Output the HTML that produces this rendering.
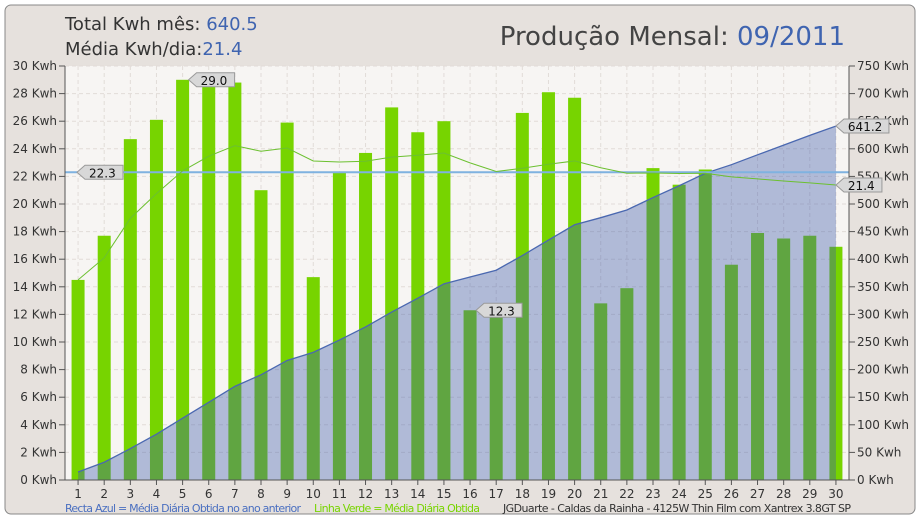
<!DOCTYPE html>
<html><head><meta charset="utf-8"><style>
body{margin:0;background:#fff;font-family:"DejaVu Sans","Liberation Sans",sans-serif;}
svg text{font-family:"DejaVu Sans","Liberation Sans",sans-serif;}
</style></head><body>
<svg id="c" width="920" height="520">
<rect x="5" y="5" width="910" height="509" rx="6" fill="#e6e1dd" stroke="#888"/>
<rect x="65" y="66" width="784" height="414" fill="#f7f5f3"/>
<g id="grid"></g><g id="bars"></g><g id="area"></g><g id="lines"></g><g id="axes"></g><g id="labels"></g>
<text x="65" y="30" font-size="18" fill="#333">Total Kwh mês: <tspan fill="#3f64b0">640.5</tspan></text>
<text x="65" y="55" font-size="18" fill="#333">Média Kwh/dia:<tspan fill="#3f64b0">21.4</tspan></text>
<text x="845" y="45" font-size="26" fill="#444" text-anchor="end">Produção Mensal: <tspan fill="#3f64b0">09/2011</tspan></text>
<text x="65" y="512" font-size="11" fill="#4a6fc0" textLength="236">Recta Azul = Média Diária Obtida no ano anterior</text>
<text x="314" y="512" font-size="11" fill="#77d400" textLength="166">Linha Verde = Média Diária Obtida</text>
<text x="503" y="512" font-size="11" fill="#333" textLength="348">JGDuarte  -  Caldas da Rainha  -  4125W Thin Film com Xantrex 3.8GT SP</text>
</svg>
<script>
const days=[1,2,3,4,5,6,7,8,9,10,11,12,13,14,15,16,17,18,19,20,21,22,23,24,25,26,27,28,29,30];
const daily=[14.5,17.7,24.7,26.1,29.0,28.8,28.8,21.0,25.9,14.7,22.3,23.7,27.0,25.2,26.0,12.3,12.3,26.6,28.1,27.7,12.8,13.9,22.6,21.4,22.5,15.6,17.9,17.5,17.7,16.9];
const prevAvg=22.3;
const leftTicks=[0,2,4,6,8,10,12,14,16,18,20,22,24,26,28,30];
const rightTicks=[0,50,100,150,200,250,300,350,400,450,500,550,600,650,700,750];
const NS="http://www.w3.org/2000/svg";
const X0=65,X1=849,Y0=480,Y1=66,step=(X1-X0)/30;
const x=d=>X0+step*(d-0.5);
const yL=v=>Y0-(v/30)*(Y0-Y1);
const yR=v=>Y0-(v/750)*(Y0-Y1);
function mk(p,t,a){const e=document.createElementNS(NS,t);for(const k in a)e.setAttribute(k,a[k]);document.getElementById(p).appendChild(e);return e;}
leftTicks.forEach(v=>{
 const g=mk('grid','line',{x1:X0,x2:X1,y1:yL(v),y2:yL(v),stroke:'#e2dcd8','stroke-dasharray':'4,3'});
 
 
 const t=mk('axes','text',{x:57,y:yL(v)+4,'font-size':12,fill:'#333','text-anchor':'end'});t.textContent=v+' Kwh';
 
 
 mk('axes','line',{x1:59,x2:65,y1:yL(v),y2:yL(v),stroke:'#555'});
});
rightTicks.forEach(v=>{
 const t=mk('axes','text',{x:857,y:yR(v)+4,'font-size':12,fill:'#333'});t.textContent=v+' Kwh';
 
 
 mk('axes','line',{x1:849,x2:855,y1:yR(v),y2:yR(v),stroke:'#555'});
});
days.forEach((d,i)=>{
 const gl=mk('grid','line',{x1:x(d),x2:x(d),y1:Y1,y2:Y0,stroke:'#e2dcd8','stroke-dasharray':'4,3'});
 
 
 const b=mk('bars','rect',{x:x(d)-6.5,y:yL(daily[i]),width:13,height:Y0-yL(daily[i]),fill:'#77d400'});
 
 
 const t=mk('axes','text',{x:x(d),y:498,'font-size':12,fill:'#333','text-anchor':'middle'});t.textContent=d;
 
 
 mk('axes','line',{x1:x(d),x2:x(d),y1:Y0,y2:Y0+5,stroke:'#555'});
});
mk('axes','line',{x1:X0,x2:X0,y1:Y1,y2:Y0,stroke:'#555'});
mk('axes','line',{x1:X1,x2:X1,y1:Y1,y2:Y0,stroke:'#555'});
mk('axes','line',{x1:X0,x2:X1,y1:Y0,y2:Y0,stroke:'#555'});
let cum=0,pts=[],avg=[];
daily.forEach((v,i)=>{cum+=v;pts.push([x(days[i]),yR(cum)]);avg.push([x(days[i]),yL(cum/(i+1))]);});
const ps=pts.map(p=>p.join(',')).join(' ');
const ar=mk('area','polygon',{points:x(1)+','+Y0+' '+ps+' '+x(30)+','+Y0,fill:'rgba(60,90,170,0.38)'});


const al=mk('area','polyline',{points:ps,fill:'none',stroke:'#4a68b0','stroke-width':1.3});


const hl=mk('lines','line',{x1:X0,x2:X1,y1:yL(prevAvg),y2:yL(prevAvg),stroke:'#7fb2e0','stroke-width':2});


const gl=mk('lines','polyline',{points:avg.map(p=>p.join(',')).join(' '),fill:'none',stroke:'#6cc030','stroke-width':1});


function callout(px,py,txt,name){
 const w=txt.length*7+10;
 const p=mk('labels','path',{d:`M${px},${py} l8,-7 h${w} v14 h-${w} z`,fill:'#d8d8d8',stroke:'#999'});
 
 
 const t=mk('labels','text',{x:px+12,y:py+5,'font-size':12,fill:'#111'});t.textContent=txt;
 
 
}
let mi=0,ni=0;daily.forEach((v,i)=>{if(v>daily[mi])mi=i;if(v<daily[ni])ni=i;});
callout(x(days[mi])+6,yL(daily[mi]),daily[mi].toFixed(1),'max-callout');
callout(x(days[ni])+6,yL(daily[ni]),daily[ni].toFixed(1),'min-callout');
callout(X0+12,yL(prevAvg),prevAvg.toFixed(1),'previous-average-callout');
callout(pts[29][0],pts[29][1],cum.toFixed(1),'total-callout');
callout(avg[29][0],avg[29][1],(cum/30).toFixed(1),'average-callout');
</script>
</body></html>
